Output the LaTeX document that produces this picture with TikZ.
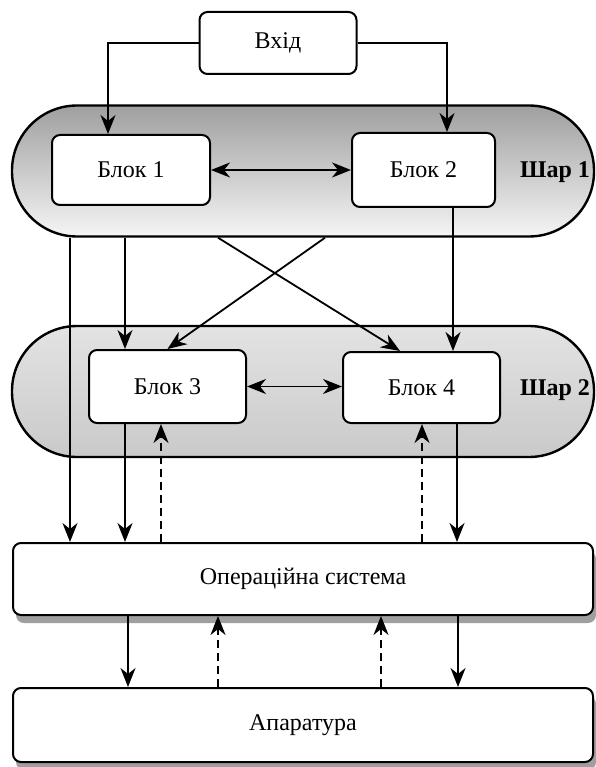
\documentclass[tikz,border=0pt]{standalone}
\usepackage{fontspec}
\setmainfont{Liberation Serif}
\usetikzlibrary{arrows.meta,calc,positioning,shadows}

\tikzset{
  blk/.style={draw, line width=2pt, rounded corners=8pt, fill=white,
    font=\fontsize{24}{28}\selectfont, inner sep=0pt},
  layer/.style={draw, line width=2.4pt, rounded corners=65pt,
    minimum width=582pt, minimum height=131pt, inner sep=0pt},
  shar/.style={font=\fontsize{24}{28}\selectfont\bfseries},
  tip/.tip={Stealth[length=19pt,width=15pt,inset=6pt]},
  arr/.style={line width=1.8pt, -tip},
  darr/.style={arr, dash pattern=on 8pt off 5pt},
  barr/.style={line width=1.8pt, tip-tip},
  shd/.style={drop shadow={shadow xshift=3pt, shadow yshift=-8pt, fill=gray!75, opacity=1}}
}

\begin{document}
\begin{tikzpicture}[x=1pt,y=1pt,yscale=-1]
\useasboundingbox (0,0) rectangle (595,767);

%Layers
\node[layer, top color=gray!75, bottom color=gray!8] (lay1) at (303,171) {};
\node[layer, top color=gray!22, bottom color=gray!42] (lay2) at (303,391.5) {};

%Blocks
\node[blk, minimum width=157pt, minimum height=62pt] (vhid) at (278,43) {Вхід};
\node[blk, minimum width=158pt, minimum height=70pt] (b1) at (131,170) {Блок 1};
\node[blk, minimum width=143pt, minimum height=74pt] (b2) at (423.5,170) {Блок 2};
\node[blk, minimum width=157pt, minimum height=73pt] (b3) at (167.5,386.5) {Блок 3};
\node[blk, minimum width=157pt, minimum height=71pt] (b4) at (421.5,387.5) {Блок 4};
\node[blk, shd, minimum width=580pt, minimum height=72pt] (os) at (303,579) {Операційна система};
\node[blk, shd, minimum width=580pt, minimum height=74pt] (hw) at (303,725) {Апаратура};

% Text Node
\node[shar] (s1) at (555,172) {Шар 1};
% Text Node
\node[shar] (s2) at (555,390) {Шар 2};

%Line positions
\coordinate (ca) at (108,0);
\coordinate (cb) at (447,0);
\coordinate (cc) at (70,0);
\coordinate (cd) at (125,0);
\coordinate (ce) at (218,0);
\coordinate (cf) at (325,0);
\coordinate (cg) at (453,0);
\coordinate (co) at (400,0);
\coordinate (ch) at (161,0);
\coordinate (ci) at (422,0);
\coordinate (cj) at (457,0);
\coordinate (ck) at (128,0);
\coordinate (cl) at (218,0);
\coordinate (cm) at (381,0);
\coordinate (cn) at (458,0);

%Straight Lines
\draw[arr] (vhid.west) -| (ca |- b1.north);
\draw[arr] (vhid.east) -| (cb |- b2.north);
\draw[barr] (b1.east) -- (b2.west);
\draw[arr] (cc |- lay1.south) -- (cc |- os.north);
\draw[arr] (cd |- lay1.south) -- (cd |- b3.north);
\draw[arr] (cf |- lay1.south) -- (b3.north);
\draw[arr] (ce |- lay1.south) -- (co |- b4.north);
\draw[arr] (cg |- b2.south) -- (cg |- b4.north);
\draw[barr] (b3.east) -- (b3.east -| b4.west);
\draw[arr] (cd |- b3.south) -- (cd |- os.north);
\draw[darr] (ch |- os.north) -- (ch |- b3.south);
\draw[darr] (ci |- os.north) -- (ci |- b4.south);
\draw[arr] (cj |- b4.south) -- (cj |- os.north);
\draw[arr] (ck |- os.south) -- (ck |- hw.north);
\draw[darr] (cl |- hw.north) -- (cl |- os.south);
\draw[darr] (cm |- hw.north) -- (cm |- os.south);
\draw[arr] (cn |- os.south) -- (cn |- hw.north);

\end{tikzpicture}
\end{document}
